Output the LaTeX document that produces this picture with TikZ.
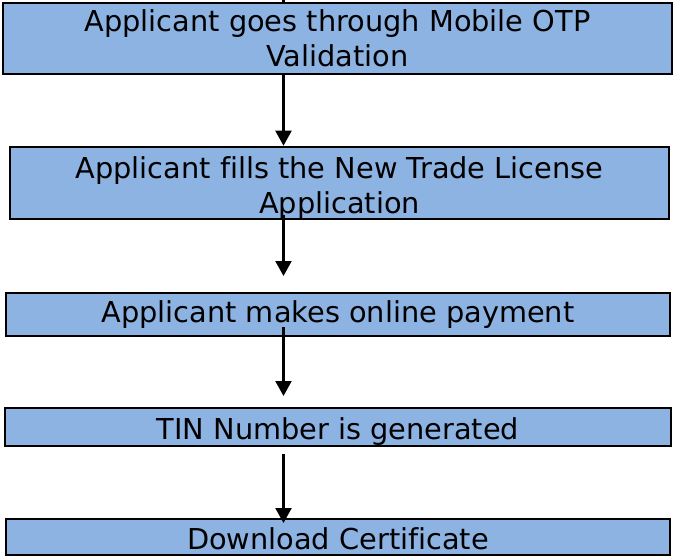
\documentclass[tikz,border=0pt]{standalone}
\usepackage{fontspec}
\setmainfont{DejaVu Sans}[Ligatures=NoCommon]
\usetikzlibrary{arrows.meta}
\definecolor{boxblue}{HTML}{8DB3E2}
\begin{document}
\begin{tikzpicture}[x=1pt,y=-1pt,
  flowbox/.style={draw=black, line width=2.6pt, fill=boxblue, inner sep=0pt,
    font=\fontsize{28.8}{35}\selectfont, align=center, text=black},
  flowarrow/.style={line width=2.2pt, -{Triangle[width=16pt,length=15pt]}}]
\useasboundingbox (0,0) rectangle (675,558);
\node[flowbox, minimum width=669pt, minimum height=71pt, text height=60pt, text depth=3.6pt] (b1) at (337.5,38.5) {Applicant goes through Mobile OTP\\Validation};
\node[flowbox, minimum width=659pt, minimum height=72pt, text height=64pt, text depth=4pt] (b2) at (339.5,183) {Applicant fills the New Trade License\\Application};
\node[flowbox, minimum width=664pt, minimum height=43pt, text height=20pt, text depth=4pt] (b3) at (338,314.5) {Applicant makes online payment};
\node[flowbox, minimum width=666pt, minimum height=38pt, text height=26pt, text depth=2pt] (b4) at (338,427) {TIN Number is generated};
\node[flowbox, minimum width=664pt, minimum height=36pt, text height=26pt, text depth=2pt] (b5) at (338,537) {Download Certificate};
\coordinate (top) at (283.5,0);
\coordinate (a2s) at (283.5,215);
\coordinate (a2e) at (283.5,276);
\coordinate (a3s) at (283.5,327);
\coordinate (a3e) at (283.5,396);
\coordinate (a4s) at (283.5,454);
\coordinate (a4e) at (283.5,523);
\draw[line width=2.2pt] (top) -- (top |- b1.north);
\draw[flowarrow] (top |- b1.south) -- (top |- b2.north);
\draw[flowarrow] (a2s) -- (a2e);
\draw[flowarrow] (a3s) -- (a3e);
\draw[flowarrow] (a4s) -- (a4e);
\end{tikzpicture}
\end{document}
